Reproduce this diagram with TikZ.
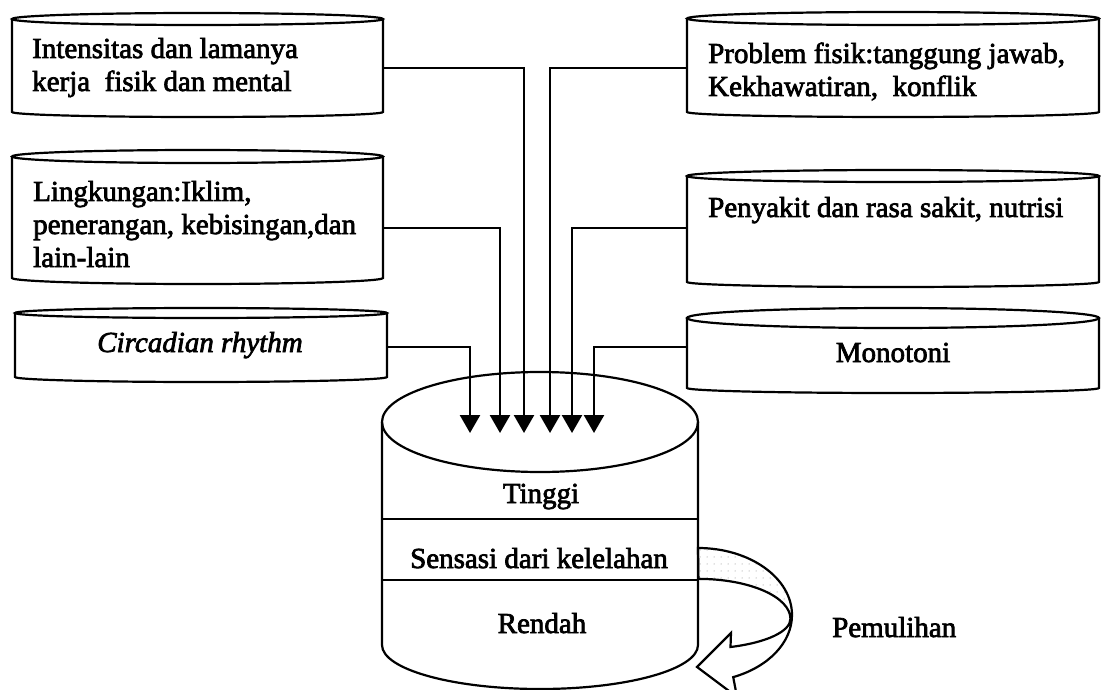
\documentclass[tikz,border=0pt]{standalone}
\usepackage{fontspec}
\setmainfont{Liberation Serif}[FakeBold=2.5]
\usetikzlibrary{arrows.meta,patterns.meta}
\newcommand\cylbox[7]{% name, xl, xr, top, ry top, bottom, ry bottom
  \node[boxn, minimum width={(#3-#2)*1bp}, minimum height={(#6-#4)*1bp}] (#1) at ({(#2+#3)/2},{(#4+#6)/2}) {};
  \draw[cyl] (#2,#4+#5) -- (#2,#6-#7) arc[start angle=180,end angle=0,x radius={(#3-#2)/2},y radius=#7] -- (#3,#4+#5);
  \draw[cyl] ({(#2+#3)/2},#4+#5) ellipse[x radius={(#3-#2)/2}, y radius=#5];
}
\begin{document}
\begin{tikzpicture}[x=1bp,y=-1bp,
  txt/.style={font=\fontsize{29bp}{33bp}\selectfont, inner sep=0pt, align=left},
  boxn/.style={inner sep=0pt, outer sep=0pt, draw=none},
  cyl/.style={line width=2.2bp},
  arr/.style={-{Triangle[width=20bp,length=18bp]}, line width=2.5bp}]
\useasboundingbox[fill=white] (0,0) rectangle (1101,690);

% side cylinders
\cylbox{L1}{12}{383}{13}{6}{117}{5}
\cylbox{L2}{12}{383}{150}{6.5}{284}{6}
\cylbox{L3}{15}{387}{308}{5}{382}{5}
\cylbox{R1}{687}{1099}{12}{6.5}{117}{5}
\cylbox{R2}{687}{1099}{170}{6}{287}{5}
\cylbox{R3}{687}{1099}{308}{10}{393}{5}

% main cylinder
\cylbox{M}{382}{698}{372}{50}{689}{44}
\draw[cyl] (382,519) -- (698,519);
\draw[cyl] (382,580) -- (698,580);

% texts (multi-line nodes: base = last line)
\node[txt, anchor=base west] (L1t) at (32,91) {Intensitas dan lamanya\\kerja~ fisik dan mental};
\node[txt, anchor=base west] (L2t) at (33,267) {Lingkungan:Iklim,\\penerangan, kebisingan,dan\\lain-lain};
\node[txt, anchor=base] (L3t) at (200,352) {\itshape Circadian rhythm};
\node[txt, anchor=base west] (R1t) at (708,96) {Problem fisik:tanggung jawab,\\Kekhawatiran,~ konflik};
\node[txt, anchor=base west] (R2t) at (708,217) {Penyakit dan rasa sakit, nutrisi};
\node[txt, anchor=base] (R3t) at (893,362) {Monotoni};
\node[txt, anchor=base] (Mt1) at (541,503) {Tinggi};
\node[txt, anchor=base] (Mt2) at (539,568) {Sensasi dari kelelahan};
\node[txt, anchor=base] (Mt3) at (542,633) {Rendah};
\node[txt, anchor=base west] (P) at (832,637) {Pemulihan};

% arrow targets
\coordinate (a1) at (470,433);
\coordinate (a2) at (500,433);
\coordinate (a3) at (524,433);
\coordinate (a4) at (550,433);
\coordinate (a5) at (572,433);
\coordinate (a6) at (594,433);

\draw[arr] ([yshift=-3bp]L1.east) -| (a3);
\draw[arr] ([yshift=-3.5bp]R1.west) -| (a4);
\draw[arr] ([yshift=-11bp]L2.east) -| (a2);
\draw[arr] ([yshift=0.5bp]R2.west) -| (a5);
\draw[arr] ([yshift=-2bp]L3.east) -| (a1);
\draw[arr] ([yshift=3.5bp]R3.west) -| (a6);

% recovery arrow
\fill[pattern={Dots[distance=7bp, radius=0.5bp]}, pattern color=gray]
  (698,548) arc[start angle=-90, end angle=0, x radius=94, y radius=67]
  -- (790,619) arc[start angle=0, end angle=-90, x radius=92, y radius=40] -- cycle;
\draw[line width=2.2bp, line join=miter]
  (698,548) arc[start angle=-90, end angle=68, x radius=94, y radius=67]
  -- (737,697) -- (697,667) -- (731,633) -- (730.5,647)
  arc[start angle=69.6, end angle=0, x radius=92, y radius=30]
  arc[start angle=0, end angle=-90, x radius=92, y radius=40] -- cycle;
\end{tikzpicture}
\end{document}
